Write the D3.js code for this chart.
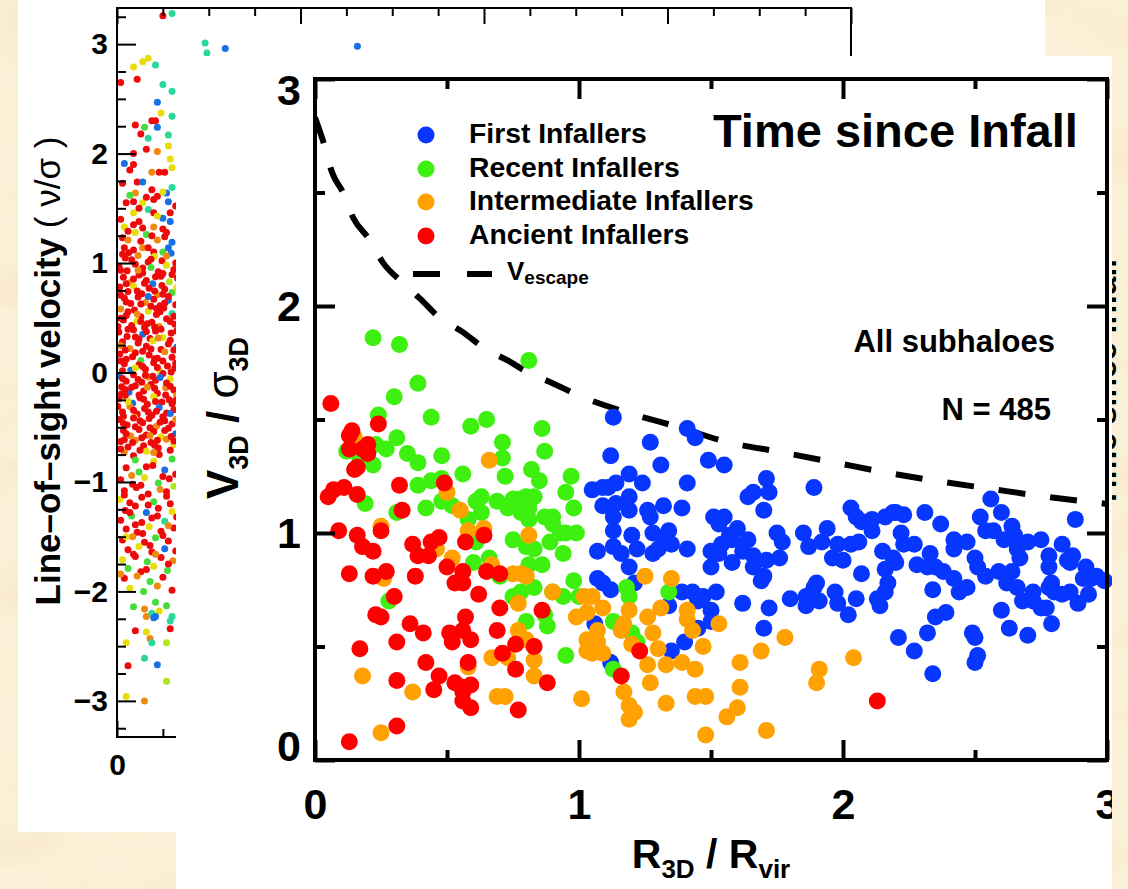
<!DOCTYPE html>
<html>
<head>
<meta charset="utf-8">
<script src="https://cdn.jsdelivr.net/npm/d3@7"></script>
<style>
  html, body { margin: 0; padding: 0; background: #fbefd4; }
  svg { display: block; }
  text { font-family: "Liberation Sans", Arial, Helvetica, sans-serif; }
</style>
</head>
<body>
<svg id="chart" width="1128" height="889"></svg>
<script>
// ---------------------------------------------------------------
// Main panel: V3D/sigma3D against R3D/Rvir, coloured by time since infall
// ---------------------------------------------------------------
const firstInfallers = [
  [1.13,1.51],[1.27,1.40],[1.41,1.46],[1.44,1.42],[1.12,1.34],[1.31,1.30],[1.49,1.32],[1.19,1.26],
  [1.24,1.22],[1.41,1.22],[1.05,1.19],[1.09,1.20],[1.11,1.20],[1.14,1.22],[1.19,1.16],[1.09,1.12],
  [1.14,1.13],[1.19,1.10],[1.26,1.10],[1.27,1.07],[1.32,1.12],[1.39,1.11],[1.13,1.07],[1.51,1.07],
  [1.13,1.01],[1.20,0.99],[1.28,1.00],[1.34,1.01],[1.33,0.98],[1.07,0.92],[1.13,0.94],[1.16,0.91],
  [1.22,0.93],[1.28,0.91],[1.30,0.93],[1.32,0.96],[1.35,0.95],[1.41,0.93],[1.50,0.92],[1.19,0.85],
  [1.50,0.85],[1.07,0.80],[1.09,0.78],[1.12,0.75],[1.21,0.78],[1.39,0.74],[1.43,0.74],[1.45,0.70],
  [1.52,0.74],[1.34,0.68],[1.50,0.66],[1.06,0.60],[1.45,0.58],[1.35,0.48],[1.40,0.52],[1.12,0.43],
  [1.55,1.30],[1.71,1.24],[1.89,1.20],[1.64,1.16],[1.66,1.18],[1.72,1.18],[1.70,1.10],[1.55,1.07],
  [1.53,1.04],[1.60,1.02],[1.57,0.99],[1.58,0.97],[1.64,0.97],[1.54,0.95],[1.53,0.91],[1.62,0.92],
  [1.66,0.90],[1.58,0.87],[1.66,0.85],[1.75,1.00],[1.77,0.96],[1.76,0.89],[1.71,0.88],[1.69,0.79],
  [1.70,0.81],[1.62,0.69],[1.72,0.67],[1.80,0.71],[1.70,0.58],[1.47,0.72],[1.50,0.61],[1.85,1.00],
  [1.87,0.94],[1.92,0.96],[1.94,1.02],[1.98,0.95],[1.96,0.89],[2.00,0.88],[2.03,1.11],[2.05,1.07],
  [2.07,1.05],[2.03,0.95],[2.06,0.96],[1.90,0.78],[1.89,0.76],[1.86,0.72],[1.91,0.70],[1.86,0.68],
  [1.97,0.74],[1.98,0.69],[2.02,0.64],[2.05,0.71],[2.07,0.82],[2.11,1.06],[2.11,1.01],[2.16,1.07],
  [2.19,1.09],[2.20,1.09],[2.23,1.08],[2.22,1.00],[2.15,0.92],[2.19,0.89],[2.20,0.87],[2.16,0.84],
  [2.17,0.78],[2.16,0.74],[2.13,0.71],[2.14,0.68],[2.23,0.95],[2.27,0.95],[2.31,1.09],[2.37,1.04],
  [2.28,0.86],[2.32,0.85],[2.33,0.91],[2.35,0.85],[2.38,0.83],[2.34,0.75],[2.35,0.63],[2.32,0.56],
  [2.39,0.65],[2.27,0.48],[2.21,0.54],[2.34,0.38],[2.42,0.97],[2.42,0.93],[2.47,0.96],[2.42,0.80],
  [2.44,0.74],[2.47,0.76],[2.49,0.56],[2.50,0.54],[2.51,0.46],[2.50,0.43],[2.52,1.07],[2.54,1.01],
  [2.57,1.01],[2.56,1.15],[2.60,1.09],[2.61,0.97],[2.64,1.03],[2.65,0.99],[2.50,0.89],[2.51,0.85],
  [2.54,0.81],[2.59,0.83],[2.62,0.78],[2.66,0.76],[2.66,0.93],[2.67,0.89],[2.64,0.83],[2.70,0.96],
  [2.75,0.97],[2.68,0.70],[2.72,0.74],[2.72,0.70],[2.75,0.67],[2.77,0.67],[2.79,0.78],[2.78,0.76],
  [2.78,0.85],[2.78,0.90],[2.83,0.95],[2.80,0.74],[2.83,0.73],[2.86,0.74],[2.85,0.88],[2.87,0.90],
  [2.86,0.87],[2.88,1.06],[2.92,0.85],[2.91,0.80],[2.94,0.80],[2.96,0.81],[2.99,0.79],[2.93,0.73],
  [2.89,0.69],[2.79,0.60],[2.70,0.55],[2.63,0.58],[2.60,0.66]
];

const recentInfallers = [
  [0.22,1.86],[0.32,1.83],[0.81,1.76],[0.39,1.66],[0.30,1.60],[0.24,1.52],[0.44,1.51],[0.59,1.47],
  [0.65,1.50],[0.86,1.46],[0.31,1.42],[0.27,1.37],[0.23,1.39],[0.22,1.30],[0.35,1.35],[0.39,1.31],
  [0.48,1.34],[0.71,1.40],[0.71,1.33],[0.87,1.36],[0.82,1.28],[0.56,1.26],[0.72,1.25],[0.85,1.23],
  [0.97,1.25],[0.39,1.21],[0.44,1.23],[0.48,1.24],[0.19,1.13],[0.95,1.18],[0.42,1.11],[0.48,1.14],
  [0.52,1.12],[0.61,1.14],[0.63,1.16],[0.69,1.14],[0.75,1.15],[0.78,1.15],[0.80,1.16],[0.83,1.16],
  [0.63,1.09],[0.73,1.11],[0.78,1.09],[0.81,1.11],[0.31,1.09],[0.98,1.11],[0.87,1.07],[0.90,1.07],
  [0.90,1.04],[0.58,1.06],[0.81,1.06],[0.95,1.00],[0.99,1.00],[0.93,1.00],[0.75,0.97],[0.61,0.96],
  [0.80,0.94],[0.83,0.93],[0.89,0.96],[0.94,0.91],[0.60,0.87],[0.66,0.89],[0.81,0.86],[0.86,0.86],
  [0.70,0.81],[0.75,0.72],[0.78,0.74],[0.83,0.76],[0.90,0.74],[0.94,0.72],[0.98,0.79],[0.28,0.70],
  [0.87,0.64],[0.80,0.61],[0.88,0.59],[0.95,0.46],[1.34,0.74],[1.18,0.76],[1.19,0.72],[1.00,0.72],
  [1.13,0.61],[1.20,0.56],[1.22,0.52],[1.13,0.40],[0.14,1.42],[0.17,1.33],[0.12,1.36]
];

const intermediateInfallers = [
  [0.15,1.42],[0.66,1.32],[0.50,1.18],[0.55,1.10],[0.25,1.03],[0.58,1.01],[0.64,1.02],[0.81,0.99],
  [0.46,0.93],[0.52,0.89],[0.67,0.86],[0.75,0.82],[0.78,0.82],[0.80,0.81],[0.26,0.80],[0.90,0.74],
  [0.77,0.69],[0.77,0.57],[0.80,0.53],[0.83,0.44],[0.67,0.45],[0.73,0.45],[0.58,0.41],[0.18,0.37],
  [0.83,0.37],[0.37,0.30],[0.69,0.28],[0.72,0.28],[0.25,0.12],[1.25,0.81],[1.35,0.80],[1.02,0.72],
  [1.05,0.72],[1.09,0.67],[1.03,0.65],[0.99,0.63],[1.19,0.66],[1.26,0.63],[1.31,0.67],[1.41,0.66],
  [1.41,0.62],[1.17,0.60],[1.16,0.57],[1.07,0.57],[1.03,0.53],[1.07,0.52],[1.28,0.56],[1.43,0.57],
  [1.20,0.51],[1.03,0.48],[1.05,0.47],[1.09,0.47],[1.30,0.49],[1.47,0.50],[1.26,0.42],[1.33,0.42],
  [1.39,0.43],[1.44,0.40],[1.27,0.34],[1.17,0.30],[1.01,0.27],[1.33,0.25],[1.44,0.28],[1.48,0.28],
  [1.19,0.24],[1.21,0.21],[1.19,0.18],[1.48,0.11],[1.53,0.60],[1.69,0.48],[1.78,0.54],[1.61,0.43],
  [2.04,0.45],[1.91,0.40],[1.90,0.34],[1.61,0.32],[1.60,0.23],[1.56,0.19],[1.71,0.13]
];

const ancientInfallers = [
  [0.06,1.57],[0.24,1.48],[0.14,1.45],[0.13,1.43],[0.20,1.39],[0.18,1.37],[0.13,1.37],[0.20,1.35],
  [0.16,1.29],[0.15,1.28],[0.32,1.21],[0.49,1.22],[0.11,1.20],[0.07,1.19],[0.05,1.16],[0.16,1.17],
  [0.33,1.10],[0.09,1.01],[0.25,1.01],[0.64,0.99],[0.57,0.96],[0.16,0.99],[0.18,0.94],[0.22,0.92],
  [0.37,0.95],[0.44,0.96],[0.47,0.98],[0.39,0.90],[0.43,0.90],[0.50,0.85],[0.56,0.83],[0.65,0.83],
  [0.70,0.82],[0.13,0.82],[0.22,0.81],[0.27,0.83],[0.38,0.81],[0.53,0.78],[0.56,0.78],[0.62,0.73],
  [0.30,0.72],[0.70,0.67],[0.86,0.66],[0.23,0.64],[0.25,0.63],[0.57,0.63],[0.36,0.60],[0.41,0.56],
  [0.51,0.56],[0.56,0.57],[0.59,0.53],[0.69,0.57],[0.31,0.52],[0.52,0.52],[0.76,0.51],[0.83,0.50],
  [0.17,0.49],[0.71,0.47],[0.42,0.43],[0.58,0.43],[0.76,0.40],[0.47,0.37],[0.31,0.35],[0.88,0.34],
  [0.53,0.34],[0.56,0.32],[0.59,0.33],[0.45,0.31],[0.56,0.30],[0.56,0.26],[0.59,0.23],[0.77,0.22],
  [0.31,0.15],[0.13,0.08],[1.23,0.48],[1.16,0.37],[2.13,0.26]
];

// escape velocity profile
const escapeR = [0, 0.035, 0.064, 0.106, 0.144, 0.208, 0.258, 0.33, 0.40, 0.47, 0.56, 0.64, 0.73,
                 0.81, 0.90, 0.99, 1.185, 1.375, 1.564, 1.761, 1.958, 2.152, 2.356, 2.557, 2.754, 2.947, 3.0];
const escapeV = [2.83, 2.71, 2.59, 2.50, 2.39, 2.29, 2.19, 2.105, 2.03, 1.95, 1.885, 1.815, 1.76,
                 1.705, 1.66, 1.61, 1.53, 1.467, 1.40, 1.357, 1.313, 1.269, 1.229, 1.195, 1.162, 1.135, 1.128];

const seriesNames = ["First Infallers", "Recent Infallers", "Intermediate Infallers", "Ancient Infallers"];
const seriesColors = ["#0636ff", "#3df00f", "#ffa100", "#ff0000"];
const mainMajorTicks = [0, 1, 2, 3];
const mainMinorTicks = [0.5, 1.5, 2.5];

// ---------------------------------------------------------------
// Background panel: projected phase space (line-of-sight velocity)
// ---------------------------------------------------------------
const losPoints = [
  [0.25,3.26,"r"],[0.30,3.28,"t"],[0.48,3.01,"t"],[0.49,2.92,"t"],[0.59,2.96,"b"],[1.31,2.98,"b"],
  [0.09,2.79,"y"],[0.14,2.84,"y"],[0.17,2.87,"y"],[0.21,2.81,"t"],[0.02,2.65,"r"],[0.11,2.68,"r"],
  [0.25,2.63,"t"],[0.30,2.57,"t"],[0.22,2.47,"b"],[0.24,2.37,"y"],[0.30,2.34,"t"],[0.10,2.26,"r"],
  [0.15,2.24,"G"],[0.13,2.18,"r"],[0.19,2.30,"r"],[0.21,2.30,"r"],[0.22,2.24,"b"],[0.28,2.17,"t"],
  [0.17,2.14,"t"],[0.09,2.00,"r"],[0.16,2.04,"r"],[0.22,2.02,"o"],[0.28,2.07,"y"],[0.29,1.95,"y"],
  [0.04,1.91,"b"],[0.09,1.90,"r"],[0.07,1.85,"r"],[0.19,1.83,"o"],[0.23,1.83,"r"],[0.26,1.83,"r"],
  [0.30,1.87,"y"],[0.03,1.73,"r"],[0.11,1.74,"r"],[0.14,1.74,"b"],[0.10,1.64,"o"],[0.19,1.67,"r"],
  [0.22,1.61,"r"],[0.27,1.64,"b"],[0.30,1.69,"t"],[0.25,1.65,"y"],[0.05,1.55,"r"],[0.09,1.56,"r"],
  [0.14,1.55,"y"],[0.20,1.58,"r"],[0.28,1.56,"b"],[0.09,1.46,"y"],[0.17,1.49,"t"],[0.20,1.46,"r"],
  [0.25,1.41,"b"],[0.29,1.46,"r"],[0.04,1.33,"y"],[0.09,1.35,"r"],[0.14,1.32,"r"],[0.20,1.33,"o"],
  [0.29,1.38,"b"],[0.25,1.31,"r"],[0.16,1.26,"G"],[0.10,1.28,"y"],[0.03,1.23,"r"],[0.06,1.21,"o"],
  [0.13,1.20,"r"],[0.22,1.21,"o"],[0.26,1.24,"r"],[0.30,1.19,"b"],[0.04,1.14,"r"],[0.09,1.12,"r"],
  [0.14,1.14,"o"],[0.17,1.14,"r"],[0.20,1.10,"r"],[0.25,1.10,"G"],[0.28,1.14,"b"],
  [0.06,1.29,"r"],[0.19,1.25,"r"],[0.12,1.38,"r"],[0.27,1.28,"r"],[0.02,1.40,"r"],[0.22,1.43,"y"],
  [0.12,1.50,"r"],[0.32,1.52,"r"],[0.07,1.62,"G"],[0.16,1.60,"r"],
  [0.03,1.08,"r"],[0.08,1.03,"r"],[0.115,1.07,"o"],[0.17,1.01,"r"],[0.205,1.06,"y"],[0.245,1.02,"r"],[0.295,1.09,"b"],[0.32,1.00,"r"],
  [0.01,0.97,"r"],[0.055,0.93,"r"],[0.10,0.99,"r"],[0.14,0.91,"r"],[0.185,0.96,"G"],[0.225,0.92,"r"],[0.27,0.98,"y"],[0.31,0.94,"r"],
  [0.035,0.87,"r"],[0.07,0.82,"o"],[0.12,0.89,"r"],[0.16,0.84,"r"],[0.195,0.81,"b"],[0.24,0.88,"r"],[0.285,0.83,"g"],[0.33,0.86,"r"],
  [0.015,0.78,"r"],[0.06,0.74,"r"],[0.09,0.79,"y"],[0.135,0.72,"r"],[0.175,0.77,"r"],[0.22,0.71,"o"],[0.26,0.76,"r"],[0.30,0.73,"G"],
  [0.04,0.68,"r"],[0.075,0.63,"r"],[0.115,0.69,"r"],[0.155,0.64,"o"],[0.20,0.67,"r"],[0.235,0.61,"r"],[0.28,0.66,"b"],[0.32,0.62,"r"],
  [0.02,0.58,"o"],[0.05,0.52,"r"],[0.095,0.57,"r"],[0.13,0.51,"r"],[0.17,0.56,"y"],[0.215,0.53,"r"],[0.255,0.59,"r"],[0.30,0.54,"t"],
  [0.035,0.48,"r"],[0.08,0.43,"r"],[0.11,0.47,"y"],[0.15,0.41,"r"],[0.19,0.46,"r"],[0.23,0.42,"o"],[0.27,0.49,"r"],[0.315,0.44,"r"],
  [0.01,0.37,"r"],[0.055,0.33,"r"],[0.09,0.39,"r"],[0.14,0.35,"b"],[0.18,0.31,"r"],[0.21,0.38,"r"],[0.25,0.32,"y"],[0.295,0.36,"r"],
  [0.03,0.28,"r"],[0.07,0.22,"o"],[0.115,0.27,"r"],[0.16,0.24,"r"],[0.195,0.29,"y"],[0.24,0.21,"r"],[0.28,0.26,"r"],[0.325,0.23,"b"],
  [0.015,0.17,"r"],[0.05,0.12,"r"],[0.10,0.18,"r"],[0.13,0.11,"G"],[0.175,0.16,"r"],[0.22,0.13,"r"],[0.26,0.19,"o"],[0.30,0.14,"r"],
  [0.04,0.08,"r"],[0.075,0.02,"b"],[0.12,0.07,"r"],[0.155,0.03,"r"],[0.20,0.09,"r"],[0.235,0.01,"y"],[0.275,0.06,"r"],[0.315,0.04,"r"],
  [0.01,-0.03,"b"],[0.05,-0.08,"r"],[0.09,-0.02,"r"],[0.135,-0.09,"r"],[0.17,-0.04,"o"],[0.21,-0.07,"r"],[0.25,-0.01,"r"],[0.29,-0.06,"y"],
  [0.025,-0.13,"r"],[0.065,-0.18,"b"],[0.10,-0.12,"r"],[0.145,-0.17,"r"],[0.185,-0.11,"r"],[0.22,-0.19,"r"],[0.265,-0.14,"o"],[0.31,-0.16,"r"],
  [0.01,-0.24,"r"],[0.045,-0.21,"r"],[0.085,-0.28,"b"],[0.125,-0.23,"r"],[0.165,-0.29,"r"],[0.20,-0.22,"y"],[0.245,-0.27,"r"],[0.285,-0.25,"r"],[0.325,-0.21,"o"],
  [0.03,-0.36,"r"],[0.07,-0.31,"o"],[0.11,-0.38,"r"],[0.15,-0.33,"r"],[0.19,-0.39,"r"],[0.23,-0.32,"b"],[0.27,-0.37,"r"],[0.31,-0.34,"r"],
  [0.015,-0.43,"r"],[0.055,-0.48,"r"],[0.095,-0.41,"y"],[0.14,-0.46,"r"],[0.175,-0.42,"r"],[0.215,-0.49,"o"],[0.26,-0.44,"r"],[0.30,-0.47,"r"],
  [0.035,-0.53,"r"],[0.075,-0.58,"o"],[0.12,-0.52,"r"],[0.16,-0.57,"r"],[0.20,-0.54,"r"],[0.24,-0.59,"y"],[0.28,-0.51,"r"],[0.32,-0.56,"b"],
  [0.02,-0.63,"r"],[0.06,-0.68,"r"],[0.10,-0.62,"o"],[0.145,-0.67,"r"],[0.185,-0.64,"r"],[0.225,-0.69,"r"],[0.27,-0.61,"o"],[0.31,-0.66,"y"],
  [0.04,-0.73,"o"],[0.09,-0.76,"r"],[0.16,-0.72,"y"],[0.23,-0.75,"r"],[0.29,-0.71,"r"],
  [0.045,1.045,"r"],[0.14,0.955,"r"],[0.25,0.905,"r"],[0.09,0.855,"r"],[0.205,0.745,"r"],[0.02,0.705,"r"],
  [0.28,0.695,"r"],[0.13,0.625,"r"],[0.215,0.585,"r"],[0.06,0.555,"r"],[0.31,0.515,"r"],[0.165,0.445,"r"],
  [0.005,0.42,"r"],[0.24,0.395,"r"],[0.10,0.325,"r"],[0.29,0.295,"r"],[0.02,0.245,"o"],[0.185,0.215,"r"],
  [0.085,0.145,"r"],[0.25,0.105,"r"],[0.14,0.055,"r"],[0.32,0.085,"r"],[0.03,0.015,"r"],[0.195,-0.035,"r"],
  [0.115,-0.065,"r"],[0.27,-0.095,"r"],[0.045,-0.155,"r"],[0.205,-0.145,"r"],[0.145,-0.245,"r"],[0.30,-0.285,"r"],
  [0.005,-0.31,"r"],[0.215,-0.355,"r"],[0.09,-0.415,"r"],[0.25,-0.405,"r"],[0.035,-0.465,"r"],[0.18,-0.505,"r"],
  [0.135,-0.595,"r"],[0.295,-0.585,"r"],[0.04,-0.615,"r"],[0.205,-0.665,"r"],
  [0.065,1.095,"r"],[0.185,1.035,"r"],[0.27,1.065,"o"],[0.02,0.935,"r"],[0.115,0.935,"o"],[0.21,0.875,"r"],
  [0.30,0.895,"r"],[0.05,0.81,"r"],[0.15,0.815,"r"],[0.245,0.795,"r"],[0.325,0.775,"y"],[0.11,0.745,"r"],
  [0.25,0.715,"r"],[0.17,0.695,"b"],[0.05,0.645,"r"],[0.26,0.635,"r"],[0.185,0.605,"r"],[0.11,0.535,"o"],
  [0.235,0.555,"r"],[0.02,0.495,"r"],[0.13,0.465,"r"],[0.29,0.465,"r"],[0.205,0.415,"r"],[0.06,0.395,"r"],
  [0.16,0.375,"r"],[0.325,0.38,"r"],[0.12,0.305,"r"],[0.225,0.315,"o"],[0.045,0.205,"r"],[0.14,0.195,"r"],
  [0.31,0.205,"r"],[0.205,0.125,"r"],[0.02,0.105,"r"],[0.10,0.04,"y"],[0.22,0.045,"r"],[0.295,0.005,"r"],
  [0.03,-0.055,"r"],[0.155,-0.025,"r"],[0.235,-0.045,"b"],[0.08,-0.135,"r"],[0.165,-0.135,"o"],[0.29,-0.125,"r"],
  [0.025,-0.195,"r"],[0.12,-0.205,"r"],[0.265,-0.205,"r"],[0.06,-0.265,"y"],[0.21,-0.265,"r"],[0.32,-0.255,"r"],
  [0.09,-0.345,"r"],[0.17,-0.36,"r"],[0.29,-0.375,"b"],[0.035,-0.40,"r"],[0.125,-0.44,"r"],[0.235,-0.455,"r"],
  [0.32,-0.43,"o"],[0.10,-0.495,"r"],[0.26,-0.53,"r"],[0.05,-0.56,"r"],[0.18,-0.575,"o"],[0.22,-0.62,"r"],
  [0.085,-0.64,"r"],[0.31,-0.625,"r"],[0.125,-0.71,"r"],[0.20,-0.73,"o"],[0.02,-0.70,"r"],
  [0.10,-0.80,"G"],[0.20,-0.81,"y"],[0.30,-0.79,"G"],
  [0.05,-0.87,"r"],[0.12,-0.91,"G"],[0.195,-0.85,"r"],[0.26,-0.89,"b"],[0.32,-0.93,"r"],
  [0.02,-0.98,"r"],[0.085,-1.02,"r"],[0.15,-0.96,"y"],[0.225,-1.01,"G"],[0.285,-0.97,"r"],
  [0.04,-1.08,"r"],[0.105,-1.05,"r"],[0.17,-1.11,"r"],[0.235,-1.07,"o"],[0.31,-1.04,"g"],
  [0.015,-1.16,"y"],[0.07,-1.19,"r"],[0.135,-1.14,"r"],[0.20,-1.18,"G"],[0.27,-1.13,"r"],
  [0.045,-1.26,"r"],[0.10,-1.22,"r"],[0.16,-1.28,"b"],[0.225,-1.24,"r"],[0.30,-1.27,"y"],
  [0.02,-1.35,"r"],[0.08,-1.31,"G"],[0.135,-1.37,"r"],[0.19,-1.33,"r"],[0.26,-1.36,"t"],[0.325,-1.32,"r"],
  [0.05,-1.43,"r"],[0.11,-1.46,"r"],[0.175,-1.41,"y"],[0.24,-1.45,"r"],[0.31,-1.42,"r"],
  [0.03,-1.53,"r"],[0.085,-1.50,"o"],[0.15,-1.55,"r"],[0.21,-1.51,"G"],[0.28,-1.54,"r"],
  [0.06,-1.62,"r"],[0.12,-1.59,"y"],[0.19,-1.64,"r"],[0.26,-1.61,"b"],[0.32,-1.63,"r"],
  [0.03,-1.71,"y"],[0.10,-1.68,"r"],[0.165,-1.73,"G"],[0.24,-1.69,"r"],[0.305,-1.72,"o"],
  [0.06,-1.79,"G"],[0.13,-1.82,"r"],[0.20,-1.77,"y"],[0.275,-1.81,"G"],
  [0.04,-1.88,"r"],[0.11,-1.86,"o"],[0.18,-1.91,"G"],[0.25,-1.87,"r"],
  [0.07,-1.97,"y"],[0.145,-2.00,"G"],[0.22,-1.95,"o"],[0.30,-1.99,"r"],
  [0.16,-0.86,"r"],[0.08,-0.94,"o"],[0.25,-0.95,"r"],[0.13,-1.03,"r"],[0.27,-1.09,"r"],[0.04,-1.12,"r"],
  [0.17,-1.21,"r"],[0.29,-1.20,"r"],[0.07,-1.28,"r"],[0.22,-1.31,"r"],[0.10,-1.39,"r"],[0.28,-1.40,"o"],
  [0.14,-1.47,"r"],[0.05,-1.50,"y"],[0.25,-1.49,"r"],[0.18,-1.58,"r"],[0.09,-1.66,"r"],[0.21,-1.66,"o"],
  [0.28,-1.75,"r"],[0.16,-1.80,"r"],[0.02,-1.84,"o"],
  [0.09,-2.14,"G"],[0.16,-2.23,"o"],[0.21,-2.10,"G"],[0.23,-2.18,"y"],[0.15,-2.16,"o"],[0.27,-2.13,"G"],
  [0.19,-2.20,"t"],[0.20,-2.24,"b"],[0.21,-2.23,"b"],[0.30,-2.23,"t"],[0.29,-2.27,"t"],[0.10,-2.36,"r"],
  [0.16,-2.37,"y"],[0.29,-2.34,"r"],[0.18,-2.43,"o"],[0.05,-2.47,"y"],[0.19,-2.47,"t"],[0.27,-2.47,"g"],
  [0.15,-2.61,"t"],[0.06,-2.68,"r"],[0.22,-2.67,"b"],[0.27,-2.82,"g"],[0.05,-2.96,"y"],[0.15,-3.00,"o"]
];
const losColors = { r: "#ee0a0a", o: "#ee8a10", y: "#e8dc0a", g: "#b2e41c", G: "#46dc3c", t: "#2ad897", b: "#1a6ee6" };
const losMajorV = [-3, -2, -1, 0, 1, 2, 3];
const losMajorR = [0, 1, 2, 3, 4];

// ---------------------------------------------------------------
const W = 1128, H = 889;
const svg = d3.select("#chart");
const defs = svg.append("defs");

// parchment backdrop
const parch = defs.append("filter").attr("id", "parchment")
  .attr("filterUnits", "userSpaceOnUse").attr("x", 0).attr("y", 0).attr("width", W).attr("height", H);
parch.append("feTurbulence").attr("type", "fractalNoise").attr("baseFrequency", "0.009 0.016")
  .attr("numOctaves", 5).attr("seed", 11).attr("result", "noise");
parch.append("feColorMatrix").attr("in", "noise").attr("type", "matrix")
  .attr("values", "0 0 0 0 0.93  0 0 0 0 0.80  0 0 0 0 0.58  2.4 0 0 0 -1.05");
svg.append("rect").attr("width", W).attr("height", H).attr("fill", "#fcf1d8");
svg.append("rect").attr("width", W).attr("height", H).attr("fill", "#fff").attr("filter", "url(#parchment)").attr("opacity", 0.8);

// ----- background figure -----
const back = svg.append("g");
back.append("rect").attr("x", 18).attr("y", -2).attr("width", 1027).attr("height", 834).attr("fill", "#fff");

const lx = d3.scaleLinear().domain([0, 4]).range([117, 851]);
const ly = d3.scaleLinear().domain([-3.33, 3.33]).range([737, 8]);

defs.append("clipPath").attr("id", "losClip").append("rect")
  .attr("x", 117).attr("y", 8).attr("width", 734).attr("height", 729);

back.append("g").attr("clip-path", "url(#losClip)")
  .selectAll("circle").data(losPoints).join("circle")
  .attr("cx", d => lx(d[0])).attr("cy", d => ly(d[1])).attr("r", 3.5)
  .attr("fill", d => losColors[d[2]]);

const losMinorV = d3.range(-3.25, 3.3, 0.25).filter(v => Math.abs(v - Math.round(v)) > 1e-6);
const losMinorR = d3.range(0.25, 4, 0.25).filter(v => Math.abs(v - Math.round(v)) > 1e-6);

function styleAxis(g, w) {
  g.select(".domain").remove();
  g.selectAll(".tick line").attr("stroke", "#000").attr("stroke-width", w);
}
back.append("g").attr("transform", "translate(117,0)")
  .call(d3.axisLeft(ly).tickValues(losMajorV).tickSize(-19).tickPadding(9).tickFormat(d3.format("d")))
  .call(g => styleAxis(g, 2))
  .call(g => g.selectAll("text").attr("font-size", 30).attr("font-weight", "bold").attr("fill", "#000"));
back.append("g").attr("transform", "translate(117,0)")
  .call(d3.axisLeft(ly).tickValues(losMinorV).tickSize(-9).tickFormat(""))
  .call(g => styleAxis(g, 2));
// only the first radius label shows beside the front panel
back.append("g").attr("transform", "translate(0,737)")
  .call(d3.axisBottom(lx).tickValues(losMajorR).tickSize(-16).tickPadding(17).tickFormat(d => d === 0 ? "0" : ""))
  .call(g => styleAxis(g, 2))
  .call(g => g.selectAll("text").attr("font-size", 30).attr("font-weight", "bold").attr("fill", "#000"));
back.append("g").attr("transform", "translate(0,737)")
  .call(d3.axisBottom(lx).tickValues(losMinorR).tickSize(-8).tickFormat(""))
  .call(g => styleAxis(g, 2));
back.append("g").attr("transform", "translate(0,8)")
  .call(d3.axisTop(lx).tickValues(losMajorR).tickSize(-16).tickFormat(""))
  .call(g => styleAxis(g, 2));
back.append("g").attr("transform", "translate(0,8)")
  .call(d3.axisTop(lx).tickValues(losMinorR).tickSize(-8).tickFormat(""))
  .call(g => styleAxis(g, 2));
back.append("rect").attr("x", 117).attr("y", 8).attr("width", 734).attr("height", 729)
  .attr("fill", "none").attr("stroke", "#000").attr("stroke-width", 2);

const losTitle = back.append("text").attr("transform", "translate(60,371) rotate(-90)")
  .attr("text-anchor", "middle").attr("font-size", 35).attr("font-weight", "bold").attr("fill", "#000");
losTitle.append("tspan").text("Line\u2013of\u2013sight velocity ");
losTitle.append("tspan").attr("font-weight", "normal").text("( \u03bd/\u03c3 )");

// colour-bar caption of the background figure, mostly tucked behind the front panel
svg.append("text").attr("transform", "translate(1116,383) rotate(-90)")
  .attr("text-anchor", "middle").attr("font-size", 32).attr("font-weight", "bold").attr("fill", "#000")
  .text("Time since infall");

// ----- front figure -----
defs.append("clipPath").attr("id", "panelClip").append("rect")
  .attr("x", 176).attr("y", 56).attr("width", 936).attr("height", 833);
const front = svg.append("g").attr("clip-path", "url(#panelClip)");
front.append("rect").attr("x", 176).attr("y", 56).attr("width", 936).attr("height", 833).attr("fill", "#fff");

const x = d3.scaleLinear().domain([0, 3]).range([315, 1107]);
const y = d3.scaleLinear().domain([0, 3]).range([760, 79]);

defs.append("clipPath").attr("id", "plotClip").append("rect")
  .attr("x", 315).attr("y", 79).attr("width", 792).attr("height", 681);

// escape-velocity curve
const escLine = d3.line().x(d => x(d[0])).y(d => y(d[1])).curve(d3.curveMonotoneX);
front.append("path")
  .datum(escapeR.map((r, i) => [r, escapeV[i]]))
  .attr("clip-path", "url(#plotClip)")
  .attr("d", escLine).attr("fill", "none").attr("stroke", "#000")
  .attr("stroke-width", 6).attr("stroke-dasharray", "27,25");

// subhaloes, oldest infall drawn last
const groups = [firstInfallers, recentInfallers, intermediateInfallers, ancientInfallers];
groups.forEach((pts, k) => {
  front.append("g").selectAll("circle").data(pts).join("circle")
    .attr("cx", d => x(d[0])).attr("cy", d => y(d[1])).attr("r", 8.5)
    .attr("fill", seriesColors[k]);
});

// axes with inward ticks on all four sides
function frontAxis(axis, tr, vals, size, pad, labels) {
  const g = front.append("g").attr("transform", tr)
    .call(axis.tickValues(vals).tickSize(size).tickPadding(pad).tickFormat(labels ? d3.format("d") : ""));
  styleAxis(g, 4);
  g.selectAll("text").attr("font-size", 43).attr("font-weight", "bold").attr("fill", "#000");
  return g;
}
const yLab = frontAxis(d3.axisLeft(y), "translate(315,0)", mainMajorTicks, -20, 14, true);
yLab.selectAll(".tick text").attr("dy", d => d === 3 ? "0.6em" : d === 0 ? "0.02em" : "0.34em");
frontAxis(d3.axisLeft(y), "translate(315,0)", mainMinorTicks, -10, 0, false);
frontAxis(d3.axisRight(y), "translate(1107,0)", mainMajorTicks, -20, 0, false);
frontAxis(d3.axisRight(y), "translate(1107,0)", mainMinorTicks, -10, 0, false);
frontAxis(d3.axisBottom(x), "translate(0,760)", mainMajorTicks, -20, 28, true);
frontAxis(d3.axisBottom(x), "translate(0,760)", mainMinorTicks, -10, 0, false);
frontAxis(d3.axisTop(x), "translate(0,79)", mainMajorTicks, -20, 0, false);
frontAxis(d3.axisTop(x), "translate(0,79)", mainMinorTicks, -10, 0, false);

front.append("rect").attr("x", 315).attr("y", 79).attr("width", 792).attr("height", 681)
  .attr("fill", "none").attr("stroke", "#000").attr("stroke-width", 4);

// axis titles
const xt = front.append("text").attr("x", 711).attr("y", 868).attr("text-anchor", "middle")
  .attr("font-size", 41).attr("font-weight", "bold").attr("fill", "#000");
xt.append("tspan").text("R");
xt.append("tspan").attr("font-size", 26).attr("dy", 10).text("3D");
xt.append("tspan").attr("dy", -10).text(" / R");
xt.append("tspan").attr("font-size", 26).attr("dy", 10).text("vir");

const yt = front.append("text").attr("transform", "translate(238,418) rotate(-90)").attr("text-anchor", "middle")
  .attr("font-size", 44).attr("font-weight", "bold").attr("fill", "#000");
yt.append("tspan").text("V");
yt.append("tspan").attr("font-size", 27).attr("dy", 10).text("3D");
yt.append("tspan").attr("dy", -10).text(" / ");
yt.append("tspan").attr("font-weight", "normal").text("\u03c3");
yt.append("tspan").attr("font-size", 27).attr("dy", 10).text("3D");

// title and annotations
front.append("text").attr("x", 713).attr("y", 147).attr("font-size", 47).attr("font-weight", "bold")
  .attr("fill", "#000").text("Time since Infall");
front.append("text").attr("x", 1055).attr("y", 352).attr("text-anchor", "end").attr("font-size", 31)
  .attr("font-weight", "bold").attr("fill", "#000").text("All subhaloes");
front.append("text").attr("x", 1051).attr("y", 420).attr("text-anchor", "end").attr("font-size", 31)
  .attr("font-weight", "bold").attr("fill", "#000").text("N = 485");

// legend
const legend = front.append("g");
const legendY = [135, 169, 202, 236];
seriesNames.forEach((name, k) => {
  legend.append("circle").attr("cx", 426).attr("cy", legendY[k]).attr("r", 8.5).attr("fill", seriesColors[k]);
  legend.append("text").attr("x", 469).attr("y", legendY[k] + 8).attr("font-size", 28.3)
    .attr("font-weight", "bold").attr("fill", "#000").text(name);
});
legend.append("line").attr("x1", 413).attr("x2", 492).attr("y1", 274).attr("y2", 274)
  .attr("stroke", "#000").attr("stroke-width", 6).attr("stroke-dasharray", "27,27");
const vl = legend.append("text").attr("x", 507).attr("y", 280).attr("font-size", 26)
  .attr("font-weight", "bold").attr("fill", "#000");
vl.append("tspan").text("V");
vl.append("tspan").attr("font-size", 19).attr("dy", 4).text("escape");
</script>
</body>
</html>
